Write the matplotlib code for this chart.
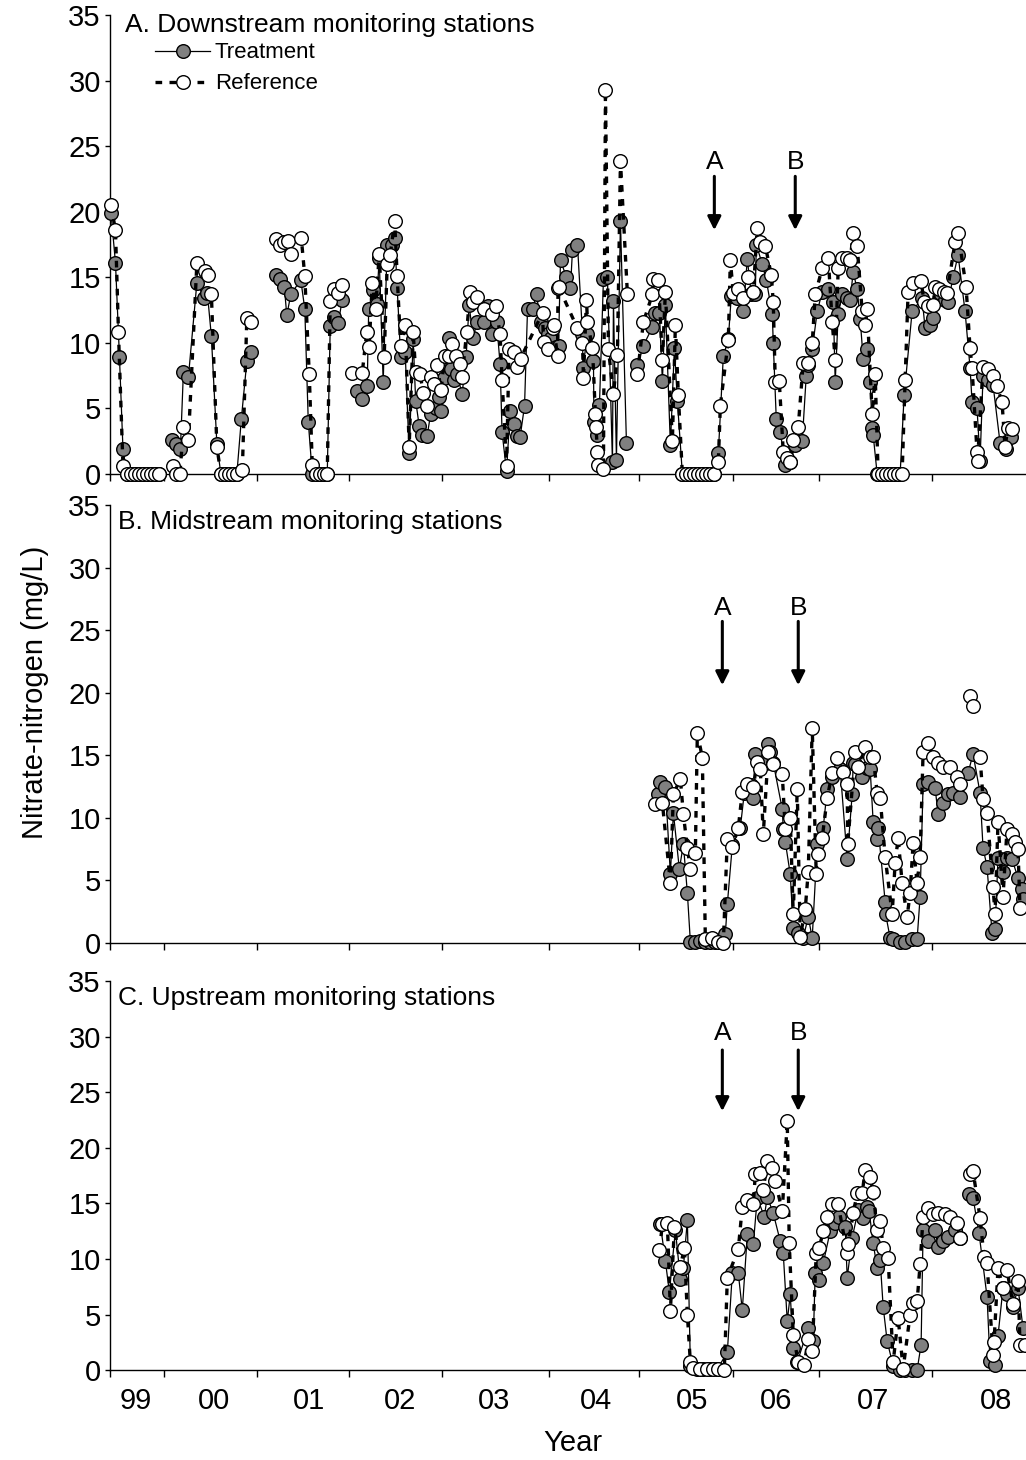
import numpy as np
import matplotlib.pyplot as plt
from matplotlib.lines import Line2D

plt.rcParams['font.family'] = ['Liberation Sans', 'DejaVu Sans']

# x = sample number along the (category) time axis, y = nitrate-N in mg/L
# None breaks the line where a sample is missing
year_edges = [0, 10.8, 29.4, 47.8, 66.4, 87.8, 106.0, 124.8, 142.0, 164.6]
year_label_pos = [5.2, 20.8, 39.8, 58.0, 76.8, 97.4, 116.6, 133.4, 152.8, 177.4]
year_labels = ['99', '00', '01', '02', '03', '04', '05', '06', '07', '08']

down_trt = [
    (0.2, 19.9), (1.1, 16.1), (1.9, 8.9), (2.6, 1.9), (3.4, 0), (4.2, 0), (5.0, 0), (5.8, 0),
    (6.6, 0), (7.4, 0), (8.2, 0), (9.0, 0), (9.8, 0), None,
    (12.5, 2.6), (13.3, 2.3), (14.1, 1.9), (14.7, 7.8), (15.7, 7.4), (17.4, 14.6), (18.9, 13.4),
    (19.5, 13.8), (20.3, 10.5), (21.4, 2.3), (22.2, 0), (23.0, 0), (23.8, 0), (24.6, 0), (25.4, 0),
    (26.3, 4.2), (27.4, 8.6), (28.3, 9.3), None,
    (33.3, 15.2), (34.1, 14.9), (34.9, 14.3), (35.4, 12.1), (36.2, 13.7), (38.2, 14.8), (39.0, 12.6),
    (39.7, 4.0), (40.5, 0), (41.3, 0), (42.1, 0), (42.9, 0), (43.5, 0), (44.1, 11.3), (44.9, 12.0),
    (45.7, 11.5), (46.5, 13.3), None,
    (49.4, 6.3), (50.5, 5.7), (51.5, 6.7), (51.8, 12.6), (52.6, 14.0), (53.4, 13.0), (53.9, 16.5),
    (54.7, 7.0), (55.5, 17.5), (56.5, 17.5), (57.0, 18.0), (57.5, 14.2), (58.2, 8.9), (59.1, 9.3),
    (59.9, 1.6), (60.7, 10.3), (61.2, 5.6), (61.9, 3.7), (62.5, 3.0), (63.5, 2.9), (64.2, 4.6),
    (65.2, 5.0), (65.9, 5.9), (66.3, 4.8), (66.9, 7.3), (67.9, 10.4), (68.3, 8.0), (68.9, 7.2),
    (69.5, 7.6), (70.5, 6.1), (71.3, 8.9), (71.9, 12.9), (72.7, 10.4), (73.5, 11.6), (74.9, 11.6),
    (75.6, 12.8), (76.5, 10.7), (77.4, 11.6), (78.1, 8.4), (78.5, 3.2), (79.4, 0.2), (80.1, 4.8),
    (80.9, 3.8), (81.5, 2.9), (82.1, 2.8), (83.0, 5.2), (83.6, 12.6), (84.6, 12.6), (85.4, 13.7),
    (86.2, 11.6), (87.0, 11.1), (87.6, 10.7), (88.2, 10.4), (89.2, 9.7), (89.8, 9.8), (90.2, 16.3),
    (91.4, 15.0), (92.2, 14.2), (92.6, 17.1), (93.6, 17.5), (94.6, 10.7), (94.7, 8.1), (95.6, 10.7),
    (96.8, 8.6), (96.9, 4.0), (97.6, 3.0), (98.0, 5.3), (98.8, 14.9), (99.6, 15.0), (100.6, 0.9),
    (100.8, 13.2), (101.4, 1.1), (102.2, 19.3), (103.4, 2.4), None,
    (105.6, 8.3), (106.8, 9.8), (108.6, 11.2), (109.2, 12.3), (110.0, 12.3), (110.6, 7.1),
    (111.2, 12.9), (112.2, 2.2), (113.0, 9.6), (113.6, 5.6), (114.6, 0), (115.4, 0), (116.2, 0),
    (117.0, 0), (117.8, 0), (118.6, 0), (119.4, 0), (120.2, 0), (121.0, 0), (121.8, 1.6),
    (122.8, 9.0), (123.8, 10.3), (124.4, 13.6), (125.6, 13.4), (126.8, 12.4), (127.6, 16.4),
    (128.4, 13.7), (129.2, 13.7), (129.4, 17.5), (130.6, 16.0), (131.4, 14.8), (132.6, 12.2),
    (132.8, 10.0), (133.4, 4.2), (134.2, 3.2), (135.2, 0.7), (136.2, 0.9), (137.2, 2.2),
    (138.6, 2.5), (139.4, 7.5), (139.8, 8.3), (140.6, 9.5), (141.6, 12.4), (142.6, 13.9),
    (143.8, 14.1), (144.8, 13.1), (145.2, 7.0), (145.8, 12.2), (146.6, 13.7), (147.6, 13.4),
    (148.2, 13.3), (148.8, 15.4), (149.6, 14.1), (150.2, 11.8), (150.8, 8.8), (151.6, 9.5),
    (152.2, 7.0), (152.6, 3.5), (152.8, 3.0), (153.6, 0), (154.4, 0), (155.2, 0), (156.0, 0),
    (156.8, 0), (157.6, 0), (158.2, 0), (159.0, 6.0), (160.6, 12.4), (162.6, 13.4), (163.2, 11.1),
    (164.2, 11.4), (164.8, 11.9), (166.2, 13.8), (167.2, 13.3), (167.8, 13.1), (168.8, 15.0),
    (169.8, 16.7), (171.2, 12.4), (172.2, 8.1), (172.6, 5.5), (173.6, 5.0), (174.2, 1.0),
    (174.8, 7.5), (175.8, 7.2), (176.8, 6.8), (178.2, 2.4), (179.4, 1.9), (180.4, 2.8),
]

down_ref = [
    (0.2, 20.5), (1.1, 18.6), (1.7, 10.8), (2.6, 0.6), (3.4, 0), (4.2, 0), (5.0, 0), (5.8, 0),
    (6.6, 0), (7.4, 0), (8.2, 0), (9.0, 0), (9.8, 0), None,
    (12.7, 0.6), (13.2, 0), (14.0, 0), (14.7, 3.6), (15.7, 2.6), (17.4, 16.1), (19.0, 15.5),
    (19.7, 15.2), (20.3, 13.7), (21.4, 2.1), (22.2, 0), (23.0, 0), (23.8, 0), (24.6, 0), (25.4, 0),
    (26.5, 0.3), (27.4, 11.9), (28.3, 11.6), None,
    (33.3, 17.9), (34.1, 17.5), (34.9, 17.7), (35.7, 17.8), (36.3, 16.8), (38.3, 18.0), (39.0, 15.1),
    (39.9, 7.6), (40.5, 0.7), (41.3, 0), (42.1, 0), (42.9, 0), (43.5, 0), (44.1, 13.2), (44.9, 14.1),
    (45.7, 13.8), (46.5, 14.4), None,
    (48.5, 7.7), (50.5, 7.7), (51.4, 10.8), (51.9, 9.7), (52.5, 14.6), (53.2, 12.6), (53.9, 16.8),
    (54.9, 8.9), (55.5, 16.0), (56.1, 16.7), (57.0, 19.3), (57.5, 15.1), (58.2, 9.8), (59.1, 11.4),
    (59.9, 2.1), (60.7, 10.8), (61.2, 7.8), (62.1, 7.6), (62.7, 6.2), (63.4, 5.2), (64.2, 7.4),
    (64.9, 6.9), (65.5, 8.3), (66.3, 6.4), (67.0, 9.0), (67.9, 9.0), (68.5, 9.9), (69.2, 9.0),
    (70.1, 8.4), (70.5, 7.4), (71.4, 10.8), (72.1, 13.9), (72.7, 13.1), (73.5, 13.5), (74.9, 12.6),
    (76.5, 12.2), (77.2, 12.8), (78.1, 10.7), (78.5, 7.2), (79.4, 0.6), (79.9, 9.5), (80.9, 9.3),
    (81.5, 8.2), (82.2, 8.8), (86.6, 12.3), (86.8, 10.1), (87.6, 9.5), (88.6, 11.1), (88.8, 11.4),
    (89.6, 9.0), (89.7, 14.2), (89.8, 14.3), (93.6, 11.1), (94.6, 10.0), (94.8, 7.3), (95.4, 13.3),
    (95.6, 11.6), (96.6, 9.6), (97.2, 4.6), (97.3, 3.6), (97.6, 1.7), (97.8, 0.7), (98.8, 0.4),
    (99.2, 29.3), (99.8, 9.5), (100.8, 6.1), (101.6, 9.1), (102.2, 23.9), (103.6, 13.7), None,
    (105.6, 7.6), (106.8, 11.6), (108.6, 13.7), (108.8, 14.9), (109.8, 14.8), (110.6, 8.7),
    (111.2, 13.9), (112.6, 2.5), (113.2, 11.4), (113.8, 6.0), (114.6, 0), (115.4, 0), (116.2, 0),
    (117.0, 0), (117.8, 0), (118.6, 0), (119.4, 0), (120.2, 0), (121.0, 0), (121.8, 0.9),
    (122.2, 5.2), (123.8, 10.2), (124.2, 16.3), (124.8, 13.8), (125.8, 14.1), (126.8, 13.4),
    (127.8, 15.0), (128.8, 13.9), (129.6, 18.8), (130.2, 17.7), (131.2, 17.4), (132.4, 15.2),
    (132.8, 13.1), (133.2, 7.0), (134.0, 7.1), (134.8, 1.7), (135.6, 1.2), (136.2, 0.9),
    (136.8, 2.6), (137.8, 3.6), (138.8, 8.5), (139.8, 8.5), (140.6, 10.0), (141.2, 13.7),
    (142.6, 15.7), (143.8, 16.5), (144.6, 11.6), (145.2, 8.7), (145.8, 15.7), (146.6, 16.5),
    (147.6, 16.5), (148.2, 16.3), (148.8, 18.4), (149.6, 17.4), (150.6, 12.4), (151.2, 11.4),
    (151.6, 12.6), (152.6, 4.6), (153.2, 7.6), (153.8, 0), (154.6, 0), (155.4, 0), (156.2, 0),
    (157.0, 0), (157.8, 0), (158.6, 0), (159.2, 7.2), (159.8, 13.9), (160.8, 14.6), (162.4, 14.7),
    (163.0, 13.1), (163.8, 12.8), (164.8, 12.9), (165.2, 14.3), (166.0, 14.1), (167.0, 13.9),
    (167.6, 13.8), (169.2, 17.7), (169.8, 18.4), (171.4, 14.3), (172.2, 9.6), (172.6, 8.1),
    (173.6, 1.7), (173.7, 1.0), (174.8, 8.2), (175.8, 8.0), (176.8, 7.5), (177.6, 6.7),
    (178.6, 5.5), (179.2, 2.1), (179.8, 3.5), (180.6, 3.4),
]

mid_trt = [
    (109.8, 11.9), (110.2, 12.9), (111.2, 12.5), (112.2, 5.5), (112.8, 10.4), (114.0, 5.9),
    (114.8, 7.9), (115.6, 4.0), (116.2, 0.1), (117.2, 0.1), (118.2, 0.2), (119.2, 0.1),
    (120.2, 0.1), (121.2, 0.1), (122.2, 0.1), (123.2, 0.7), (123.6, 3.1), (124.6, 7.8),
    (126.2, 9.2), (127.0, 12.0), (128.4, 12.6), (128.8, 11.6), (129.2, 15.1), (130.8, 14.5),
    (131.8, 15.9), (132.2, 15.3), (132.8, 14.4), (134.6, 10.7), (134.8, 9.1), (135.2, 8.1),
    (136.2, 5.5), (136.8, 1.2), (137.8, 0.8), (138.8, 0.4), (139.8, 2.1), (140.6, 0.4),
    (141.6, 7.9), (142.8, 9.2), (143.6, 12.3), (144.6, 13.3), (146.2, 13.9), (147.6, 6.7),
    (148.6, 11.9), (148.8, 14.4), (149.2, 14.3), (150.6, 13.3), (151.6, 14.0), (152.2, 13.9),
    (152.8, 9.7), (153.6, 8.3), (153.8, 9.2), (155.2, 3.3), (155.3, 2.3), (156.2, 0.4),
    (156.8, 0.3), (158.2, 0.1), (159.2, 0.1), (160.6, 0.3), (161.6, 0.3), (162.2, 3.7),
    (162.8, 12.7), (163.8, 12.9), (165.2, 12.4), (165.8, 10.3), (166.8, 11.2), (167.8, 11.9),
    (168.8, 12.0), (170.2, 11.7), (171.8, 13.6), (172.8, 15.1), (174.2, 12.0), (174.8, 7.6),
    (175.6, 6.1), (176.6, 0.8), (177.2, 1.1), (177.8, 6.8), (178.8, 5.7), (179.6, 6.8),
    (180.6, 6.7), (181.8, 5.2), (182.6, 4.3), (182.8, 3.5),
]

mid_ref = [
    (109.2, 11.1), (110.6, 11.2), (112.2, 4.8), (112.8, 11.9), (114.2, 13.1), (114.8, 10.3),
    (115.6, 7.6), (116.2, 5.9), (117.2, 7.2), (117.6, 16.8), (118.6, 14.8), (119.2, 0.3),
    (120.6, 0.4), (121.8, 0.1), (122.8, 0.0), (123.6, 8.3), (124.6, 7.7), (125.8, 9.2),
    (126.6, 12.1), (127.6, 12.7), (128.8, 12.5), (129.6, 14.5), (130.2, 13.9), (130.8, 8.7),
    (131.8, 15.3), (132.8, 14.3), (134.6, 13.5), (135.2, 9.1), (136.2, 10.0), (136.8, 2.3),
    (137.6, 12.3), (138.2, 0.5), (139.2, 2.7), (139.8, 5.7), (140.6, 17.2), (141.4, 5.5),
    (141.8, 7.1), (142.6, 8.4), (143.6, 11.6), (144.6, 13.6), (145.6, 14.8), (146.8, 13.7),
    (147.6, 12.7), (147.7, 7.9), (149.2, 15.3), (149.8, 14.1), (151.2, 15.7), (152.2, 14.9),
    (152.8, 14.9), (153.6, 12.0), (154.2, 11.6), (155.2, 6.9), (156.6, 2.3), (157.2, 6.4),
    (157.8, 8.4), (158.6, 4.8), (159.6, 2.1), (160.2, 4.0), (160.8, 8.0), (161.6, 4.8),
    (162.2, 6.9), (162.8, 15.3), (163.8, 16.0), (164.8, 14.9), (165.8, 14.4), (166.8, 14.1),
    (168.2, 14.1), (169.6, 13.3), (170.2, 12.7), None, (172.2, 19.7), (172.8, 18.9), None,
    (174.2, 14.9), (174.8, 11.5), (175.6, 10.4), (176.8, 4.5), (177.2, 2.3), (177.8, 9.7),
    (178.8, 3.7), (179.6, 9.1), (180.6, 8.7), (181.2, 8.1), (181.8, 7.5), (182.2, 2.8),
]

up_trt = [
    (110.2, 13.1), (111.2, 9.8), (112.0, 7.0), (113.2, 12.6), (114.2, 8.2), (114.8, 9.2),
    (115.6, 13.5), (116.2, 0.4), (117.6, 0.1), (118.8, 0.1), (120.2, 0.1), (121.6, 0.1),
    (123.6, 1.6), (124.6, 8.7), (125.8, 8.7), (126.6, 5.4), (127.6, 12.2), (128.8, 11.3),
    (129.6, 15.5), (131.0, 13.8), (131.6, 15.6), (132.8, 14.1), (134.2, 11.6), (134.8, 10.5),
    (135.6, 4.4), (136.2, 6.8), (136.8, 2.0), (137.6, 0.7), (139.8, 3.8), (140.8, 2.6),
    (141.2, 8.7), (142.0, 8.1), (142.8, 9.6), (144.2, 12.5), (145.2, 13.2), (146.0, 13.8),
    (147.2, 12.9), (147.6, 8.3), (148.6, 11.9), (149.8, 14.4), (150.8, 13.7), (151.6, 14.7),
    (152.0, 14.3), (152.8, 11.4), (153.6, 9.2), (154.2, 9.9), (154.8, 5.7), (155.6, 2.6),
    (156.8, 0.4), (158.2, 0.0), (159.2, 0.0), (160.6, 0.0), (161.6, 0.0), (162.4, 2.3),
    (162.8, 12.6), (163.8, 11.6), (165.2, 12.6), (165.8, 11.1), (166.8, 11.6), (167.8, 12.0),
    (169.2, 12.6), (170.2, 11.9), None, (172.0, 15.8), (172.8, 15.5), (174.0, 12.3),
    (175.6, 6.6), (176.2, 0.8), (177.2, 0.5), (177.8, 3.1), (178.8, 7.4), (179.6, 6.8),
    (180.8, 5.7), (181.8, 7.4), (182.8, 3.8),
]

up_ref = [
    (110.0, 10.8), (110.6, 13.1), (111.6, 13.2), (112.2, 5.3), (113.0, 12.9), (114.2, 9.3),
    (115.0, 11.0), (115.6, 5.0), (116.2, 0.7), (116.8, 0.2), (118.2, 0.1), (119.6, 0.1),
    (120.8, 0.1), (121.8, 0.1), (123.0, 0.0), (123.6, 8.3), (125.8, 10.9), (126.6, 14.7),
    (127.6, 15.3), (128.8, 14.9), (129.2, 17.6), (130.2, 17.7), (130.8, 16.2), (131.6, 18.8),
    (132.6, 18.2), (133.2, 17.0), (134.6, 14.3), (135.6, 22.4), (136.0, 11.4), (136.8, 3.2),
    (137.8, 0.7), (139.0, 0.5), (139.8, 2.8), (140.6, 1.7), (141.4, 10.5), (142.0, 11.0),
    (142.8, 12.5), (143.6, 13.8), (144.6, 14.9), (145.8, 14.9), (147.6, 10.5), (147.8, 11.3),
    (148.8, 14.1), (149.6, 15.9), (150.6, 15.9), (151.2, 18.0), (152.2, 17.4), (152.8, 16.0),
    (153.6, 12.6), (154.2, 13.4), (154.8, 11.0), (155.8, 10.1), (156.8, 0.7), (157.8, 4.7),
    (158.8, 0.1), (160.2, 5.0), (160.8, 6.0), (161.6, 6.2), (162.2, 9.5), (162.8, 13.8),
    (163.8, 14.6), (164.8, 14.0), (165.8, 14.1), (167.2, 14.0), (168.2, 13.8), (169.6, 13.2),
    (170.2, 11.9), None, (172.2, 17.6), (172.8, 17.9), (174.2, 13.7), (175.0, 10.2),
    (175.6, 9.6), (176.8, 1.4), (177.0, 2.5), (177.8, 9.2), (178.8, 7.4), (179.6, 9.0),
    (180.8, 5.9), (181.8, 8.0), (182.2, 2.3), (183.2, 2.3),
]

# arrows: (label, sample number) per panel
arrows_down = [('A', 121.0), ('B', 137.2)]
arrows_mid = [('A', 122.6), ('B', 137.8)]
arrows_up = [('A', 122.6), ('B', 137.8)]


def split_xy(points):
    x = [np.nan if p is None else p[0] for p in points]
    y = [np.nan if p is None else p[1] for p in points]
    return x, y


trt_style = dict(color='black', lw=0.9, marker='o', ms=9.8, mfc='#808080',
                 mec='black', mew=1.0, clip_on=False)
ref_style = dict(color='black', lw=2.4, ls=(0, (2.0, 2.2)), marker='o', ms=9.8,
                 mfc='white', mec='black', mew=1.0, clip_on=False)

fig = plt.figure(figsize=(10.26, 14.6), dpi=100)
left, width = 0.1072, 0.8928
axA = fig.add_axes([left, 0.6753, width, 0.3144])
axB = fig.add_axes([left, 0.3541, width, 0.3000])
axC = fig.add_axes([left, 0.0616, width, 0.2664])

panels = [
    (axA, down_trt, down_ref, 'A. Downstream monitoring stations', 0.016, 0.978,
     arrows_down, (23.8, 22.7, 18.6)),
    (axB, mid_trt, mid_ref, 'B. Midstream monitoring stations', 0.009, 0.961,
     arrows_mid, (26.8, 25.7, 20.6)),
    (axC, up_trt, up_ref, 'C. Upstream monitoring stations', 0.009, 0.956,
     arrows_up, (30.3, 28.8, 23.3)),
]

for ax, trt, ref, title, tx, ty, arrows, (y_lab, y_tail, y_tip) in panels:
    x, y = split_xy(trt)
    ax.plot(x, y, zorder=3, **trt_style)
    x, y = split_xy(ref)
    ax.plot(x, y, zorder=4, **ref_style)

    ax.set_xlim(0, 183.4)
    ax.set_ylim(0, 35)
    ax.set_yticks(range(0, 36, 5))
    ax.set_xticks(year_edges)
    ax.set_xticklabels([])
    for s in ['top', 'right']:
        ax.spines[s].set_visible(False)
    for s in ['left', 'bottom']:
        ax.spines[s].set_linewidth(1.0)
    ax.tick_params(axis='y', direction='out', length=3.6, width=1.0, labelsize=21, pad=3)
    ax.tick_params(axis='x', which='major', direction='out', length=5, width=1.0)

    ax.text(tx, ty, title, transform=ax.transAxes, ha='left', va='center', fontsize=19)
    for lab, xi in arrows:
        ax.annotate('', xy=(xi, y_tip), xytext=(xi, y_tail),
                    arrowprops=dict(arrowstyle='-|>', lw=2.2, color='black',
                                    mutation_scale=20, shrinkA=0, shrinkB=0))
        ax.text(xi, y_lab, lab, ha='center', va='center', fontsize=19)

axC.set_xticks(year_label_pos, minor=True)
axC.set_xticklabels(year_labels, minor=True)
axC.tick_params(axis='x', which='minor', length=0, labelsize=21, pad=12)

handles = [Line2D([], [], **trt_style), Line2D([], [], **ref_style)]
axA.legend(handles, ['Treatment', 'Reference'], loc='center left',
           bbox_to_anchor=(0.049, 0.884), frameon=False, fontsize=16,
           handlelength=2.5, handletextpad=0.2, labelspacing=0.45,
           borderpad=0, borderaxespad=0, numpoints=1)

fig.text(0.034, 0.526, 'Nitrate-nitrogen (mg/L)', rotation=90, ha='center',
         va='center', fontsize=21)
fig.text(0.558, 0.0117, 'Year', ha='center', va='center', fontsize=21)

fig.savefig('out.png', dpi=100)
